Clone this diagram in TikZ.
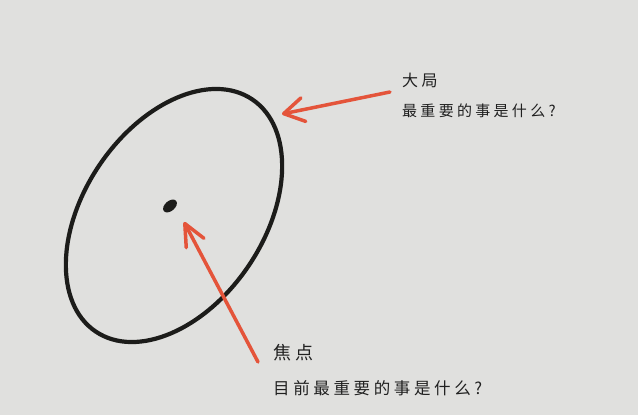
\documentclass[tikz,border=0pt]{standalone}
\usepackage{fontspec}
\newfontfamily\cjk[LetterSpace=22]{Noto Sans CJK SC}
\usetikzlibrary{shapes.geometric,arrows.meta}
\definecolor{paper}{RGB}{224,224,222}
\definecolor{pen}{RGB}{28,28,26}
\definecolor{redpen}{RGB}{228,84,58}
\definecolor{ink}{RGB}{32,32,32}
\begin{document}
\begin{tikzpicture}[x=1pt,y=1pt,
  redarrow/.style={draw=redpen,line width=3.5pt,line cap=round,-{Straight Barb[length=20pt,width=24pt,round]}},
  txt/.style={anchor=west,inner sep=0,text=ink}]
\fill[paper] (0,0) rectangle (638,415);
\useasboundingbox (0,0) rectangle (638,415);
\node[draw=pen, ellipse, line width=4.2pt, rotate=56, minimum width=280pt, minimum height=180pt, inner sep=0] (big) at (174,199.5) {};
\node[fill=pen, ellipse, rotate=40, minimum width=16pt, minimum height=10pt, inner sep=0] (dot) at (170,209) {};
\node[txt, font=\cjk\fontsize{16}{16}\selectfont] (t1) at (402,335) {大局};
\node[txt, font=\cjk\fontsize{15}{15}\selectfont] (q1) at (402,304) {最重要的事是什么?};
\node[txt, font=\cjk\fontsize{18}{18}\selectfont] (t2) at (273,62) {焦点};
\node[txt, font=\cjk\fontsize{16.5}{16.5}\selectfont] (q2) at (273,27) {目前最重要的事是什么?};
\coordinate (a1s) at (390,323);
\coordinate (a1t) at (282,301);
\coordinate (a2s) at (258,53);
\coordinate (a2t) at (184,193);
\draw[redarrow] (a1s) -- (a1t);
\draw[redarrow,-{Straight Barb[length=22pt,width=20pt,round]}] (a2s) -- (a2t);
\end{tikzpicture}
\end{document}
